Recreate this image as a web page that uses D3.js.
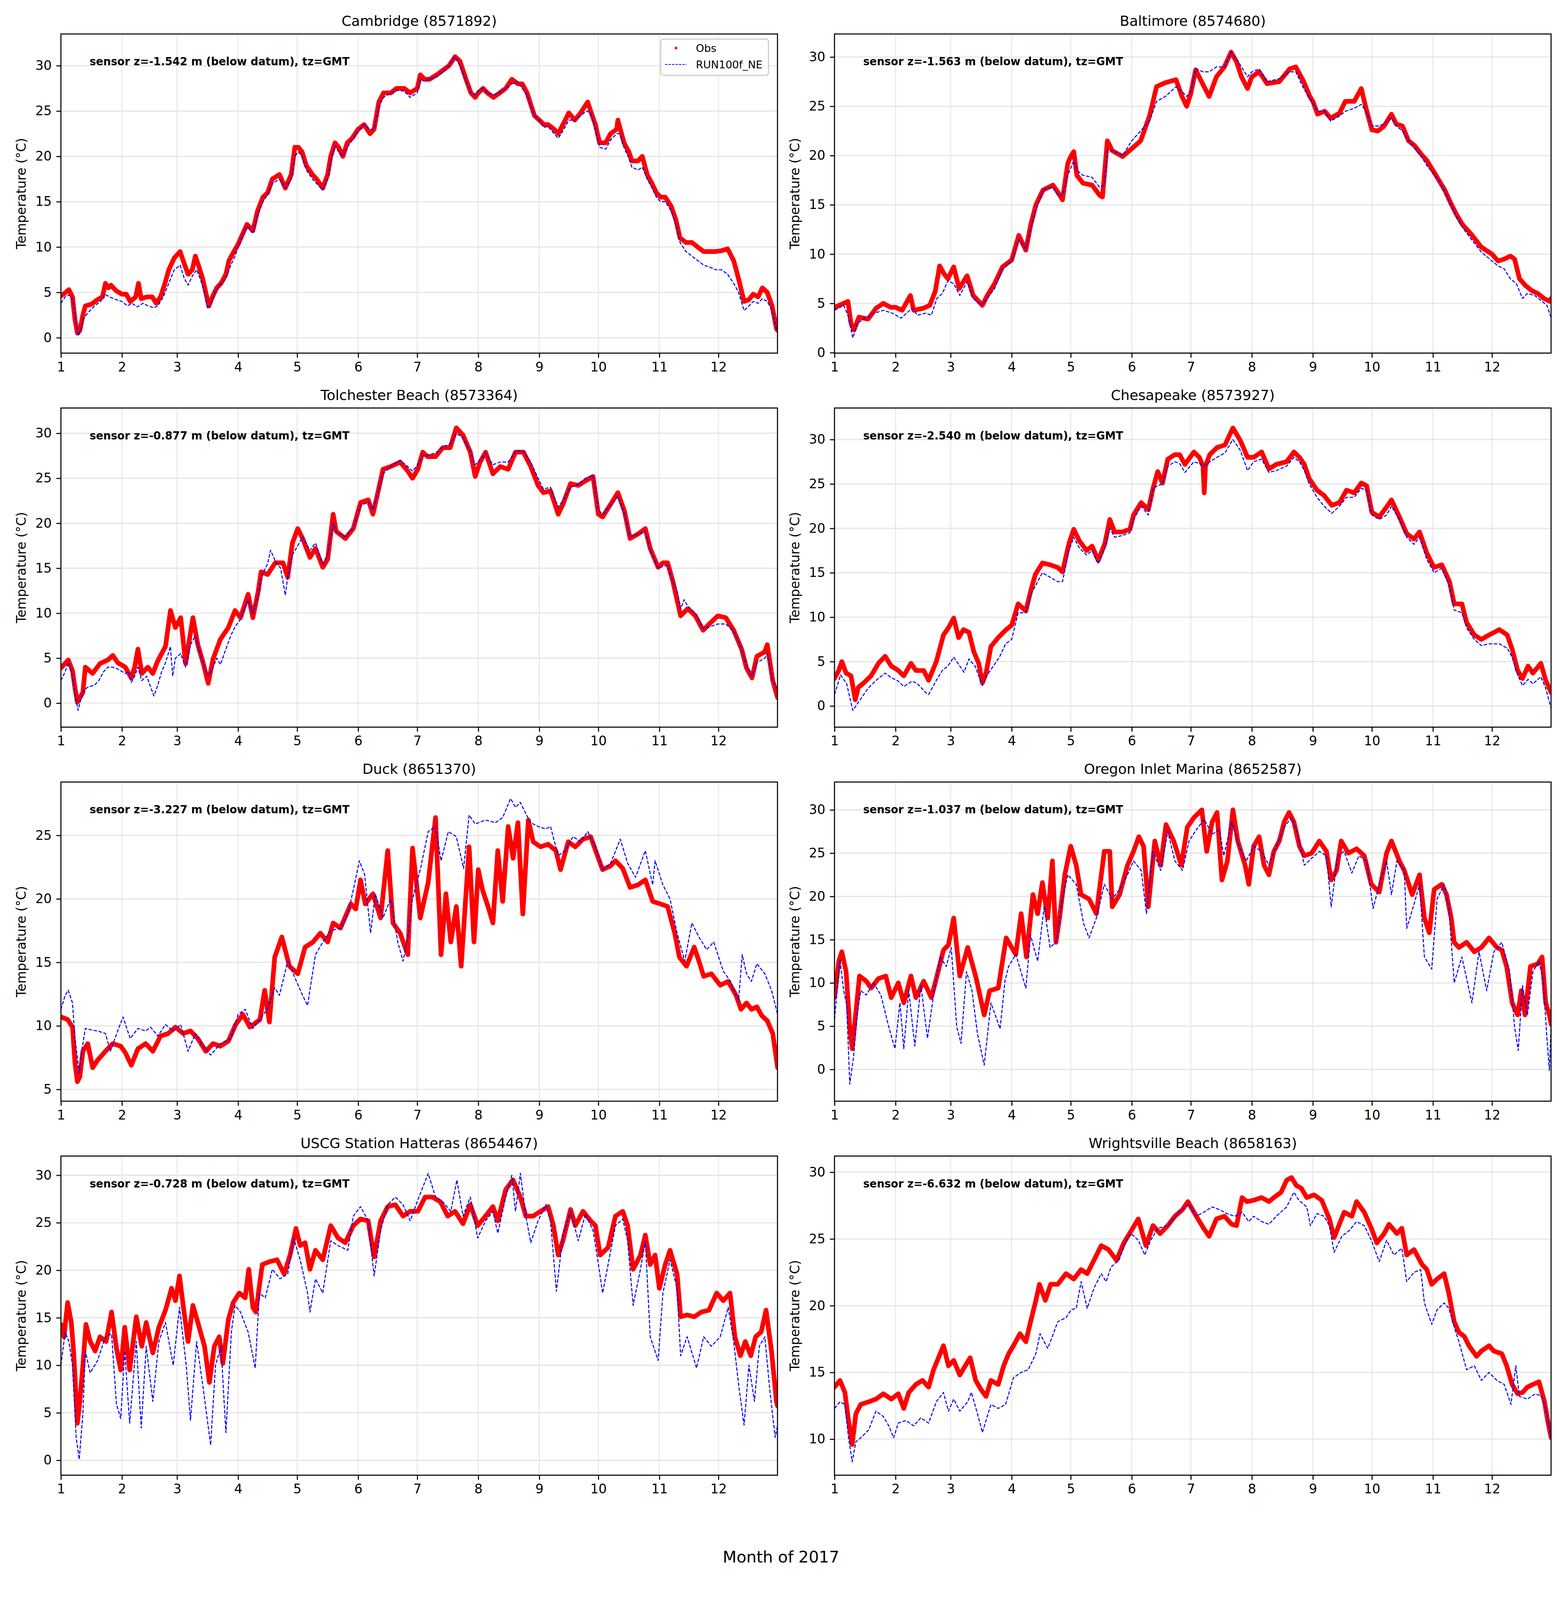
<!DOCTYPE html>
<html><head><meta charset="utf-8">
<script src="https://cdn.jsdelivr.net/npm/d3@7"></script>
<style>html,body{margin:0;padding:0;background:#fff;width:4000px;height:5000px;overflow:hidden}svg{display:block}text{font-family:"DejaVu Sans",sans-serif}</style>
</head><body>
<svg id="c" width="4000" height="5000" viewBox="0 0 4000 5000" xmlns="http://www.w3.org/2000/svg"></svg>
<script>
// ---------------- data (x = fractional month of 2017, y = temperature °C) ----------------
const stationNames = ["Cambridge (8571892)","Baltimore (8574680)","Tolchester Beach (8573364)","Chesapeake (8573927)",
  "Duck (8651370)","Oregon Inlet Marina (8652587)","USCG Station Hatteras (8654467)","Wrightsville Beach (8658163)"];
const sensorDepths = ["-1.542","-1.563","-0.877","-2.540","-3.227","-1.037","-0.728","-6.632"];
const yLimits = [[-1.70,33.50],[-0.05,32.34],[-2.67,32.81],[-2.38,33.55],[4.07,29.20],[-3.67,33.22],[-1.57,32.02],[7.30,31.21]];
const yTickValues = [[0,5,10,15,20,25,30],[0,5,10,15,20,25,30],[0,5,10,15,20,25,30],[0,5,10,15,20,25,30],
  [5,10,15,20,25],[0,5,10,15,20,25,30],[0,5,10,15,20,25,30],[10,15,20,25,30]];
const monthLabels = ["1","2","3","4","5","6","7","8","9","10","11","12"];
const seriesNames = ["Obs","RUN100f_NE"];

const obsCambridge = [[1.0,4.6],[1.08,5.0],[1.13,5.3],[1.19,4.5],[1.23,2.0],[1.27,0.5],[1.31,0.8],[1.36,2.5],[1.4,3.5],[1.5,3.7],[1.6,4.2],[1.68,4.5],[1.73,6.0],[1.78,5.5],[1.82,5.8],[1.9,5.2],[2.0,4.8],[2.08,4.8],[2.15,4.0],[2.25,4.5],[2.3,6.0],[2.35,4.3],[2.45,4.5],[2.55,4.5],[2.62,3.8],[2.7,4.5],[2.78,6.0],[2.85,7.5],[2.95,8.8],[3.05,9.5],[3.1,8.5],[3.18,7.0],[3.25,7.5],[3.3,9.0],[3.35,8.0],[3.42,6.5],[3.47,5.0],[3.52,3.5],[3.58,4.5],[3.65,5.5],[3.72,6.0],[3.8,7.0],[3.85,8.5],[3.93,9.5],[4.0,10.3],[4.08,11.5],[4.15,12.5],[4.25,11.8],[4.33,14.0],[4.42,15.5],[4.5,16.0],[4.58,17.5],[4.7,18.0],[4.8,16.5],[4.9,18.0],[4.96,21.0],[5.02,21.0],[5.08,20.5],[5.15,19.0],[5.25,18.0],[5.32,17.5],[5.42,16.5],[5.5,18.0],[5.55,20.0],[5.62,21.5],[5.68,21.0],[5.75,20.0],[5.82,21.5],[5.9,22.0],[6.0,23.0],[6.1,23.5],[6.2,22.5],[6.27,23.0],[6.35,26.0],[6.43,27.0],[6.55,27.0],[6.65,27.5],[6.78,27.5],[6.88,27.0],[7.0,27.5],[7.05,29.0],[7.12,28.5],[7.2,28.5],[7.32,29.0],[7.42,29.5],[7.52,30.0],[7.62,31.0],[7.7,30.5],[7.8,28.5],[7.88,27.0],[7.95,26.5],[8.0,27.0],[8.08,27.5],[8.15,27.0],[8.25,26.5],[8.35,27.0],[8.45,27.5],[8.55,28.5],[8.65,28.0],[8.72,28.0],[8.8,27.0],[8.92,24.5],[9.0,24.0],[9.08,23.5],[9.15,23.5],[9.25,23.0],[9.32,22.5],[9.4,23.5],[9.5,24.8],[9.6,24.0],[9.7,24.8],[9.82,26.0],[9.87,25.0],[9.95,23.5],[10.02,21.5],[10.12,21.5],[10.2,22.5],[10.3,23.0],[10.32,24.0],[10.42,21.5],[10.5,20.5],[10.55,19.5],[10.65,19.5],[10.72,20.0],[10.8,18.0],[10.88,17.0],[10.95,16.0],[11.02,15.5],[11.1,15.5],[11.2,14.5],[11.28,13.0],[11.35,11.0],[11.45,10.5],[11.55,10.5],[11.65,10.0],[11.75,9.5],[11.85,9.5],[11.95,9.5],[12.05,9.6],[12.15,9.8],[12.25,8.5],[12.33,6.5],[12.42,4.0],[12.5,4.2],[12.57,4.8],[12.65,4.5],[12.72,5.5],[12.8,5.0],[12.88,3.5],[12.95,1.0],[12.97,0.8]];
const modCambridge = [[1.0,3.8],[1.08,4.6],[1.15,4.7],[1.2,4.0],[1.25,1.5],[1.29,0.2],[1.33,1.0],[1.38,2.2],[1.45,2.8],[1.55,3.5],[1.65,4.0],[1.72,4.8],[1.8,4.5],[1.9,4.2],[2.0,4.0],[2.1,3.5],[2.18,3.8],[2.28,3.4],[2.38,3.8],[2.48,3.5],[2.58,3.3],[2.65,3.5],[2.75,4.5],[2.85,6.0],[2.95,7.5],[3.05,8.0],[3.12,6.5],[3.18,5.8],[3.25,6.8],[3.32,7.5],[3.38,6.5],[3.45,5.0],[3.5,3.2],[3.55,3.5],[3.62,5.0],[3.7,5.8],[3.8,6.5],[3.88,8.0],[3.95,9.0],[4.0,10.0],[4.08,11.3],[4.15,12.3],[4.25,11.5],[4.33,13.5],[4.42,15.0],[4.5,15.8],[4.58,17.0],[4.7,17.5],[4.8,16.5],[4.9,17.5],[4.96,20.0],[5.02,20.5],[5.08,20.0],[5.15,18.5],[5.25,17.5],[5.32,17.0],[5.42,16.3],[5.5,17.5],[5.55,19.5],[5.62,21.2],[5.68,20.5],[5.75,20.0],[5.82,21.0],[5.9,21.8],[6.0,22.8],[6.1,23.5],[6.2,23.0],[6.27,23.0],[6.35,25.5],[6.43,26.5],[6.55,27.0],[6.65,27.3],[6.78,27.2],[6.88,26.5],[7.0,27.0],[7.05,28.5],[7.12,28.3],[7.2,28.5],[7.32,28.8],[7.42,29.3],[7.52,30.0],[7.62,31.0],[7.7,30.0],[7.8,28.3],[7.88,27.0],[7.95,26.8],[8.0,27.3],[8.08,27.5],[8.15,27.0],[8.25,26.8],[8.35,27.0],[8.45,27.5],[8.55,28.0],[8.65,28.2],[8.72,27.5],[8.8,26.8],[8.92,24.5],[9.0,24.0],[9.08,23.2],[9.15,23.3],[9.25,22.5],[9.32,22.0],[9.4,22.8],[9.5,24.0],[9.6,24.0],[9.7,24.5],[9.8,25.0],[9.87,24.8],[9.95,23.0],[10.02,21.0],[10.12,20.8],[10.2,21.8],[10.3,22.5],[10.35,22.5],[10.42,21.0],[10.5,19.8],[10.55,18.8],[10.65,18.5],[10.72,18.8],[10.8,17.5],[10.88,16.5],[10.95,15.5],[11.02,15.0],[11.1,15.0],[11.2,14.0],[11.28,12.5],[11.35,10.5],[11.45,9.5],[11.55,9.0],[11.65,8.5],[11.75,8.0],[11.85,7.8],[11.95,7.5],[12.05,7.5],[12.15,7.0],[12.25,6.0],[12.33,5.0],[12.42,3.0],[12.5,3.5],[12.57,4.0],[12.65,3.8],[12.72,4.3],[12.8,4.0],[12.88,3.0],[12.95,1.0],[12.97,0.8]];

const obsBaltimore = [[1.0,4.6],[1.15,5.0],[1.22,5.2],[1.27,3.0],[1.32,2.3],[1.4,3.6],[1.55,3.4],[1.68,4.5],[1.8,5.0],[1.92,4.6],[2.0,4.6],[2.12,4.3],[2.27,5.8],[2.33,4.3],[2.5,4.5],[2.62,4.8],[2.72,6.2],[2.8,8.8],[2.88,8.0],[2.95,7.5],[3.05,8.7],[3.14,6.5],[3.27,7.8],[3.37,5.8],[3.52,4.8],[3.6,5.8],[3.72,7.0],[3.85,8.7],[4.0,9.4],[4.12,11.9],[4.24,10.4],[4.32,12.9],[4.41,15.0],[4.53,16.5],[4.7,17.0],[4.78,16.3],[4.86,15.5],[4.95,19.2],[5.0,19.9],[5.05,20.4],[5.1,18.0],[5.2,17.2],[5.35,17.0],[5.47,16.0],[5.52,15.8],[5.6,21.5],[5.68,20.5],[5.85,19.9],[6.0,20.7],[6.15,21.5],[6.3,24.0],[6.42,27.0],[6.57,27.4],[6.75,27.7],[6.85,26.0],[6.93,25.0],[7.0,26.3],[7.08,28.7],[7.2,27.2],[7.3,26.0],[7.42,28.0],[7.55,29.0],[7.66,30.5],[7.75,29.5],[7.83,28.0],[7.93,26.8],[8.0,28.0],[8.12,28.5],[8.25,27.3],[8.45,27.5],[8.62,28.8],[8.72,29.0],[8.85,27.5],[8.95,26.0],[9.0,25.5],[9.08,24.2],[9.2,24.5],[9.3,23.8],[9.45,24.3],[9.55,25.5],[9.7,25.5],[9.82,26.8],[9.9,24.8],[10.0,22.6],[10.1,22.5],[10.2,23.0],[10.32,24.2],[10.4,23.2],[10.5,23.0],[10.6,21.5],[10.7,21.0],[10.8,20.2],[10.9,19.5],[11.0,18.5],[11.1,17.5],[11.2,16.5],[11.3,15.2],[11.4,14.0],[11.5,13.0],[11.65,12.0],[11.82,10.7],[12.0,10.0],[12.1,9.3],[12.2,9.5],[12.3,9.8],[12.37,9.5],[12.45,7.5],[12.55,6.8],[12.65,6.3],[12.75,6.0],[12.85,5.5],[12.95,5.2],[12.97,5.5]];
const modBaltimore = [[1.0,4.3],[1.15,4.8],[1.22,3.8],[1.3,1.5],[1.38,3.0],[1.5,3.5],[1.65,4.0],[1.8,4.3],[1.95,4.0],[2.1,3.5],[2.2,4.0],[2.3,4.5],[2.4,3.8],[2.55,4.0],[2.65,3.8],[2.75,5.5],[2.85,6.0],[2.95,7.3],[3.05,7.0],[3.15,5.8],[3.27,7.2],[3.37,5.5],[3.5,4.8],[3.6,5.5],[3.72,6.5],[3.85,8.5],[4.0,9.3],[4.12,11.5],[4.24,10.5],[4.32,12.5],[4.41,14.5],[4.53,16.5],[4.7,16.8],[4.78,16.0],[4.86,16.0],[4.95,18.0],[5.05,19.5],[5.1,18.5],[5.2,18.0],[5.35,17.8],[5.47,16.8],[5.55,17.0],[5.6,20.5],[5.68,20.5],[5.85,20.0],[6.0,21.5],[6.15,22.5],[6.3,23.5],[6.42,25.5],[6.57,26.0],[6.75,27.0],[6.85,26.5],[6.93,26.0],[7.0,26.5],[7.08,28.8],[7.2,28.5],[7.3,28.5],[7.42,29.0],[7.55,29.0],[7.66,30.5],[7.75,29.8],[7.83,29.0],[7.93,28.0],[8.0,28.5],[8.12,28.8],[8.25,27.5],[8.45,27.8],[8.62,28.5],[8.72,28.5],[8.85,26.8],[8.95,25.8],[9.0,25.3],[9.08,24.5],[9.2,24.5],[9.3,23.5],[9.45,24.0],[9.55,24.5],[9.7,24.8],[9.82,25.2],[9.9,24.5],[10.0,23.0],[10.1,23.0],[10.2,23.2],[10.32,23.8],[10.4,23.0],[10.5,22.5],[10.6,21.5],[10.7,20.8],[10.8,20.0],[10.9,19.0],[11.0,18.2],[11.1,17.5],[11.2,16.3],[11.3,15.0],[11.4,13.8],[11.5,12.7],[11.65,11.5],[11.82,10.2],[12.0,9.3],[12.1,8.8],[12.2,8.5],[12.3,7.5],[12.4,7.0],[12.5,5.5],[12.58,6.0],[12.7,5.8],[12.8,5.3],[12.9,4.8],[12.97,3.5]];

const obsTolchester = [[1.0,3.9],[1.12,4.8],[1.19,3.6],[1.23,1.7],[1.27,0.1],[1.36,1.2],[1.4,4.0],[1.52,3.3],[1.64,4.4],[1.77,4.8],[1.85,5.3],[1.93,4.5],[2.06,4.0],[2.17,2.8],[2.23,4.0],[2.29,6.0],[2.36,3.3],[2.47,4.0],[2.56,3.3],[2.65,4.7],[2.79,6.3],[2.88,10.3],[2.97,8.4],[3.06,9.5],[3.14,4.4],[3.26,9.5],[3.34,6.5],[3.43,4.4],[3.51,2.2],[3.59,4.9],[3.71,7.1],[3.84,8.4],[3.95,10.3],[4.04,9.5],[4.17,12.1],[4.25,9.5],[4.34,12.4],[4.39,14.6],[4.5,14.3],[4.63,15.6],[4.76,15.6],[4.84,14.0],[4.92,17.8],[5.01,19.4],[5.09,18.3],[5.21,16.2],[5.3,17.2],[5.42,15.1],[5.5,16.0],[5.59,21.0],[5.64,19.1],[5.79,18.3],[5.92,19.4],[6.04,22.3],[6.17,22.6],[6.25,21.0],[6.34,23.6],[6.42,26.0],[6.55,26.3],[6.71,26.8],[6.84,25.8],[6.92,25.0],[7.01,26.0],[7.09,27.9],[7.17,27.4],[7.3,27.4],[7.42,28.4],[7.54,28.4],[7.64,30.6],[7.75,29.8],[7.87,27.9],[7.95,25.2],[8.03,26.8],[8.12,27.9],[8.24,25.5],[8.36,26.3],[8.49,26.0],[8.61,27.9],[8.74,27.9],[8.86,26.3],[8.98,24.2],[9.07,23.4],[9.19,23.6],[9.32,21.0],[9.4,22.1],[9.53,24.4],[9.66,24.2],[9.78,24.7],[9.91,25.2],[10.0,21.0],[10.07,20.7],[10.2,22.1],[10.32,23.4],[10.43,21.3],[10.52,18.3],[10.65,18.8],[10.77,19.4],[10.85,17.2],[10.98,15.1],[11.06,15.6],[11.14,15.6],[11.23,13.5],[11.36,9.7],[11.48,10.5],[11.61,9.7],[11.74,8.1],[11.86,8.9],[11.99,9.7],[12.12,9.5],[12.25,8.1],[12.38,6.0],[12.46,3.9],[12.55,2.8],[12.63,5.2],[12.76,5.7],[12.8,6.5],[12.89,2.5],[12.97,0.6]];
const modTolchester = [[1.0,2.5],[1.07,3.5],[1.12,4.5],[1.19,3.0],[1.23,1.0],[1.28,-0.8],[1.33,0.5],[1.38,1.5],[1.45,1.8],[1.55,2.0],[1.62,2.5],[1.7,3.5],[1.77,4.0],[1.85,4.0],[1.93,3.8],[2.06,3.3],[2.12,3.5],[2.17,2.3],[2.23,3.0],[2.29,4.0],[2.36,2.5],[2.45,3.0],[2.52,1.8],[2.58,0.8],[2.65,2.0],[2.72,3.5],[2.79,4.5],[2.88,6.3],[2.92,3.0],[2.97,5.0],[3.06,5.5],[3.14,4.0],[3.22,6.5],[3.3,7.5],[3.38,5.5],[3.45,4.0],[3.51,3.0],[3.59,4.0],[3.65,5.0],[3.71,4.3],[3.8,6.0],[3.88,7.5],[3.95,8.5],[4.04,9.3],[4.17,11.5],[4.25,10.0],[4.34,12.0],[4.39,14.0],[4.5,15.5],[4.55,17.0],[4.63,15.8],[4.72,15.0],[4.8,12.0],[4.84,14.0],[4.92,16.5],[5.01,17.5],[5.09,18.5],[5.21,17.0],[5.3,17.8],[5.42,15.5],[5.5,16.5],[5.59,20.0],[5.64,19.0],[5.79,18.5],[5.92,19.5],[6.04,22.0],[6.17,22.3],[6.25,21.5],[6.34,23.5],[6.42,25.5],[6.55,26.3],[6.71,27.0],[6.84,26.3],[6.92,25.8],[7.01,26.5],[7.09,27.5],[7.17,27.6],[7.3,27.8],[7.42,28.5],[7.54,28.8],[7.64,30.0],[7.75,29.5],[7.87,28.0],[7.95,26.5],[8.03,27.0],[8.12,27.8],[8.24,26.5],[8.36,26.8],[8.49,26.8],[8.61,28.0],[8.74,28.0],[8.86,26.8],[8.98,25.0],[9.07,23.8],[9.19,24.0],[9.32,21.8],[9.4,22.5],[9.53,24.0],[9.66,24.3],[9.78,25.0],[9.91,25.3],[10.0,21.5],[10.07,21.0],[10.2,22.0],[10.32,23.0],[10.43,21.0],[10.52,18.5],[10.65,18.8],[10.77,19.0],[10.85,17.0],[10.98,15.0],[11.06,15.2],[11.14,15.3],[11.23,13.5],[11.3,12.5],[11.36,10.5],[11.42,11.5],[11.48,10.8],[11.61,10.0],[11.74,8.3],[11.86,8.5],[11.99,8.8],[12.12,8.8],[12.25,8.0],[12.38,6.0],[12.46,4.2],[12.55,3.0],[12.63,4.5],[12.76,5.0],[12.8,5.5],[12.89,2.5],[12.97,1.5]];

const obsChesapeake = [[1.0,3.1],[1.07,4.0],[1.12,5.0],[1.19,3.7],[1.27,3.4],[1.34,0.7],[1.39,2.1],[1.48,2.6],[1.6,3.4],[1.72,4.8],[1.83,5.6],[1.93,4.5],[2.05,4.0],[2.15,3.4],[2.28,4.8],[2.37,4.0],[2.51,4.0],[2.6,2.9],[2.74,5.0],[2.87,8.0],[2.96,8.8],[3.05,9.9],[3.13,7.7],[3.21,8.6],[3.3,8.3],[3.38,6.1],[3.46,4.8],[3.52,2.6],[3.58,3.7],[3.66,6.7],[3.78,7.7],[3.91,8.6],[4.0,9.1],[4.11,11.5],[4.24,10.7],[4.32,12.9],[4.4,14.8],[4.52,16.1],[4.65,15.9],[4.78,15.6],[4.86,15.1],[4.97,18.3],[5.05,19.9],[5.14,18.6],[5.26,17.5],[5.35,18.0],[5.45,16.4],[5.56,18.3],[5.64,21.0],[5.72,19.6],[5.85,19.6],[5.97,19.9],[6.03,21.5],[6.16,22.9],[6.28,22.1],[6.36,24.5],[6.44,26.4],[6.52,25.1],[6.61,27.8],[6.73,28.3],[6.81,28.3],[6.9,27.2],[7.05,28.6],[7.14,28.0],[7.2,27.0],[7.22,24.0],[7.24,27.0],[7.31,28.3],[7.43,29.1],[7.56,29.4],[7.69,31.3],[7.81,29.9],[7.93,28.0],[8.03,28.0],[8.16,28.6],[8.28,26.7],[8.4,27.2],[8.57,27.5],[8.69,28.6],[8.78,28.0],[8.86,27.2],[8.94,25.6],[9.07,24.3],[9.19,23.7],[9.32,22.6],[9.45,22.9],[9.57,24.3],[9.7,24.0],[9.82,25.1],[9.91,24.8],[10.0,21.8],[10.12,21.3],[10.24,22.4],[10.32,23.2],[10.45,21.3],[10.57,19.4],[10.69,18.8],[10.78,19.6],[10.9,17.2],[11.02,15.6],[11.15,15.9],[11.28,14.0],[11.36,11.5],[11.49,11.5],[11.57,9.4],[11.7,8.0],[11.82,7.5],[11.95,8.0],[12.12,8.6],[12.25,8.0],[12.33,6.4],[12.42,4.0],[12.5,3.1],[12.59,4.5],[12.67,3.7],[12.8,4.8],[12.88,2.9],[12.97,1.5]];
const modChesapeake = [[1.0,1.3],[1.1,3.5],[1.2,2.5],[1.3,-0.5],[1.4,0.5],[1.55,2.0],[1.7,3.0],[1.83,3.7],[1.93,3.2],[2.05,2.8],[2.15,2.2],[2.3,2.8],[2.4,2.5],[2.55,1.5],[2.6,1.3],[2.75,3.0],[2.85,4.0],[2.95,4.5],[3.05,5.5],[3.15,4.5],[3.22,3.8],[3.3,5.3],[3.4,4.5],[3.52,2.3],[3.6,3.5],[3.7,4.5],[3.8,5.5],[3.9,7.0],[4.0,7.5],[4.11,10.5],[4.24,10.5],[4.32,12.5],[4.4,13.5],[4.52,15.0],[4.65,14.5],[4.78,14.0],[4.86,14.0],[4.97,17.5],[5.05,19.0],[5.14,17.8],[5.26,17.0],[5.35,17.5],[5.45,16.0],[5.56,17.8],[5.64,20.0],[5.72,19.0],[5.85,19.2],[5.97,19.5],[6.03,21.0],[6.16,22.5],[6.28,21.5],[6.36,24.5],[6.44,24.8],[6.52,25.0],[6.61,27.0],[6.73,27.5],[6.81,27.3],[6.9,26.3],[7.05,27.5],[7.14,27.3],[7.22,27.0],[7.31,27.5],[7.43,28.0],[7.56,28.5],[7.69,30.0],[7.81,28.8],[7.93,26.5],[8.03,27.5],[8.16,27.8],[8.28,26.3],[8.4,26.5],[8.57,27.0],[8.69,28.0],[8.78,27.5],[8.86,26.5],[8.94,25.0],[9.07,23.5],[9.19,22.5],[9.32,21.7],[9.45,22.5],[9.57,23.5],[9.7,23.5],[9.82,24.5],[9.91,24.3],[10.0,21.5],[10.12,21.0],[10.24,21.5],[10.32,22.5],[10.45,21.0],[10.57,19.0],[10.69,18.2],[10.78,19.0],[10.9,16.5],[11.02,15.0],[11.15,15.5],[11.28,13.5],[11.36,10.8],[11.49,10.5],[11.57,8.8],[11.7,7.5],[11.82,6.8],[11.95,7.0],[12.12,7.0],[12.25,6.5],[12.33,5.5],[12.42,3.5],[12.5,2.3],[12.59,3.0],[12.67,2.5],[12.8,3.3],[12.88,2.0],[12.97,-0.3]];

const obsDuck = [[1.0,10.7],[1.11,10.5],[1.19,9.9],[1.23,7.1],[1.27,5.6],[1.31,6.0],[1.36,8.0],[1.44,8.6],[1.52,6.7],[1.6,7.3],[1.73,8.0],[1.85,8.6],[1.98,8.4],[2.06,7.9],[2.17,6.9],[2.29,8.2],[2.43,8.6],[2.56,8.0],[2.7,9.2],[2.84,9.4],[2.97,9.9],[3.1,9.4],[3.22,9.6],[3.34,9.0],[3.47,8.0],[3.59,8.6],[3.71,8.4],[3.84,8.8],[3.96,10.1],[4.08,10.9],[4.2,9.9],[4.37,10.5],[4.45,12.8],[4.53,10.3],[4.62,15.4],[4.74,17.0],[4.87,14.7],[5.01,14.1],[5.13,16.2],[5.26,16.6],[5.38,17.3],[5.5,16.6],[5.59,18.1],[5.71,17.7],[5.88,19.6],[5.96,19.2],[6.04,21.5],[6.12,19.6],[6.25,20.4],[6.38,18.5],[6.5,23.8],[6.59,18.1],[6.71,17.3],[6.84,15.6],[6.92,24.0],[7.05,18.5],[7.18,21.3],[7.3,26.4],[7.39,15.6],[7.47,20.4],[7.55,16.6],[7.64,19.4],[7.72,14.7],[7.85,24.1],[7.93,16.6],[8.0,22.3],[8.07,20.7],[8.16,19.4],[8.24,18.1],[8.32,23.8],[8.4,19.8],[8.49,25.7],[8.57,23.2],[8.65,26.0],[8.73,18.8],[8.82,26.2],[8.9,24.5],[9.02,24.1],[9.15,24.3],[9.28,23.8],[9.36,22.3],[9.49,24.5],[9.61,24.1],[9.74,24.7],[9.87,24.9],[10.0,23.2],[10.07,22.3],[10.2,22.6],[10.28,23.0],[10.4,22.4],[10.52,20.9],[10.65,21.1],[10.77,21.5],[10.89,19.8],[11.02,19.6],[11.14,19.4],[11.26,17.3],[11.34,15.4],[11.46,14.7],[11.59,16.2],[11.67,15.1],[11.75,13.9],[11.88,14.1],[12.03,13.2],[12.16,13.5],[12.29,12.4],[12.37,11.3],[12.46,11.8],[12.54,11.3],[12.63,11.5],[12.71,10.8],[12.8,10.4],[12.89,9.4],[12.97,6.7]];
const modDuck = [[1.0,11.3],[1.07,12.4],[1.12,12.8],[1.19,11.8],[1.23,9.0],[1.3,6.3],[1.34,8.0],[1.4,9.8],[1.48,9.7],[1.6,9.6],[1.73,9.4],[1.81,8.0],[1.93,9.6],[2.02,10.7],[2.15,9.0],[2.29,9.8],[2.43,9.6],[2.52,9.9],[2.65,9.2],[2.79,10.1],[2.93,9.6],[3.06,10.1],[3.18,8.0],[3.3,9.4],[3.43,8.4],[3.55,7.7],[3.71,8.6],[3.88,9.0],[4.0,10.9],[4.12,11.3],[4.25,9.8],[4.37,10.5],[4.49,11.3],[4.62,13.0],[4.7,12.4],[4.84,15.1],[4.97,13.7],[5.09,12.4],[5.17,11.6],[5.3,15.6],[5.42,16.6],[5.55,17.5],[5.71,17.7],[5.83,18.8],[5.92,20.7],[6.02,23.0],[6.11,21.9],[6.21,17.3],[6.29,20.4],[6.42,18.5],[6.55,20.0],[6.67,16.6],[6.76,15.1],[6.84,17.0],[6.92,20.0],[7.05,22.3],[7.18,25.3],[7.3,25.7],[7.39,23.0],[7.51,25.3],[7.64,24.9],[7.76,22.4],[7.85,26.6],[7.95,25.9],[8.12,26.2],[8.28,26.0],[8.4,26.4],[8.53,27.9],[8.61,27.2],[8.69,27.6],[8.77,26.8],[8.86,26.0],[8.98,25.7],[9.11,25.5],[9.19,25.7],[9.32,23.4],[9.44,23.8],[9.57,24.9],[9.7,24.5],[9.82,25.3],[9.95,24.1],[10.07,22.3],[10.2,22.8],[10.36,24.7],[10.48,22.8],[10.61,21.7],[10.77,23.8],[10.89,21.1],[10.93,23.0],[11.06,21.1],[11.18,20.0],[11.3,17.3],[11.43,15.1],[11.55,18.1],[11.67,17.0],[11.8,16.0],[11.92,16.6],[12.08,14.3],[12.2,13.5],[12.33,12.0],[12.39,15.6],[12.46,14.1],[12.54,13.5],[12.63,14.9],[12.76,14.1],[12.87,12.8],[12.97,10.9]];

const obsOregon = [[1.0,8.3],[1.07,12.5],[1.12,13.6],[1.19,11.3],[1.25,4.9],[1.29,2.4],[1.35,6.6],[1.41,10.8],[1.52,10.2],[1.6,9.4],[1.72,10.5],[1.84,10.8],[1.93,8.3],[2.05,10.0],[2.15,7.7],[2.28,10.8],[2.37,8.3],[2.51,10.2],[2.65,8.3],[2.74,10.5],[2.87,13.8],[2.96,14.4],[3.05,17.5],[3.15,10.8],[3.28,14.1],[3.42,10.5],[3.55,6.3],[3.64,9.1],[3.78,9.4],[3.91,15.2],[4.0,14.1],[4.07,13.3],[4.16,18.0],[4.25,13.0],[4.36,20.2],[4.44,18.0],[4.52,21.6],[4.61,17.5],[4.69,24.1],[4.75,14.7],[4.81,17.5],[4.9,22.5],[5.0,25.8],[5.09,23.6],[5.17,20.2],[5.3,19.7],[5.42,18.0],[5.55,25.2],[5.64,25.2],[5.68,18.8],[5.8,20.2],[5.93,23.6],[6.03,25.2],[6.12,26.9],[6.2,25.8],[6.28,18.8],[6.39,26.4],[6.49,23.6],[6.58,28.3],[6.71,26.4],[6.84,23.6],[6.94,28.0],[7.05,29.1],[7.18,30.0],[7.26,25.2],[7.35,28.6],[7.43,29.7],[7.51,21.9],[7.6,24.1],[7.69,30.0],[7.77,26.4],[7.89,23.6],[7.95,21.4],[8.03,25.8],[8.12,26.9],[8.2,23.6],[8.28,22.5],[8.36,25.2],[8.45,26.4],[8.53,28.6],[8.61,29.7],[8.69,28.6],[8.78,25.8],[8.86,24.7],[8.98,25.0],[9.11,26.4],[9.23,25.2],[9.31,21.9],[9.4,23.0],[9.48,26.4],[9.6,25.0],[9.74,25.5],[9.87,24.7],[9.99,21.4],[10.12,20.5],[10.24,25.0],[10.32,26.4],[10.45,24.1],[10.53,23.0],[10.66,20.2],[10.78,22.5],[10.86,17.5],[10.94,15.8],[11.02,20.8],[11.15,21.4],[11.23,20.2],[11.31,17.5],[11.36,14.7],[11.44,14.1],[11.57,14.7],[11.7,13.6],[11.82,14.1],[11.95,15.2],[12.08,14.1],[12.16,13.8],[12.24,11.9],[12.33,7.7],[12.42,6.3],[12.48,9.1],[12.54,6.3],[12.63,11.9],[12.75,12.2],[12.82,13.0],[12.88,7.7],[12.94,6.3],[12.97,5.2]];
const modOregon = [[1.0,5.8],[1.09,12.7],[1.15,9.1],[1.2,7.5],[1.25,-1.7],[1.31,1.3],[1.37,6.3],[1.43,9.1],[1.52,8.6],[1.64,10.0],[1.76,8.6],[1.89,4.9],[1.99,2.4],[2.08,7.7],[2.15,2.4],[2.24,9.1],[2.35,2.7],[2.46,9.7],[2.58,3.6],[2.69,8.6],[2.81,13.0],[2.92,11.9],[3.01,14.1],[3.1,4.9],[3.17,3.0],[3.26,11.3],[3.35,9.1],[3.44,4.1],[3.55,0.5],[3.66,7.7],[3.81,4.7],[3.89,10.2],[3.95,11.9],[4.07,13.3],[4.24,9.4],[4.32,15.5],[4.44,12.5],[4.55,18.8],[4.65,14.1],[4.75,14.7],[4.86,19.7],[4.95,22.5],[5.09,21.4],[5.21,16.9],[5.3,15.2],[5.42,17.5],[5.55,21.4],[5.68,19.7],[5.8,20.8],[5.93,22.5],[6.03,24.1],[6.16,23.0],[6.25,18.0],[6.36,25.2],[6.49,23.0],[6.61,27.5],[6.73,24.1],[6.86,23.0],[6.97,26.4],[7.09,27.7],[7.22,28.9],[7.35,27.2],[7.47,27.7],[7.54,24.7],[7.67,28.6],[7.79,25.8],[7.91,24.1],[8.03,25.8],[8.16,25.2],[8.28,23.6],[8.4,25.8],[8.53,28.0],[8.65,29.1],[8.74,27.5],[8.86,23.6],[8.98,24.4],[9.11,25.2],[9.23,24.7],[9.31,18.8],[9.42,24.7],[9.53,25.2],[9.66,22.7],[9.78,24.7],[9.91,24.1],[10.02,18.6],[10.12,21.4],[10.24,24.1],[10.32,20.2],[10.41,24.1],[10.53,23.0],[10.57,16.3],[10.69,19.1],[10.78,21.4],[10.86,13.0],[10.98,11.6],[11.07,19.7],[11.19,21.4],[11.27,18.6],[11.36,10.0],[11.49,13.0],[11.66,7.7],[11.78,13.6],[11.91,9.1],[12.03,13.6],[12.16,14.7],[12.29,11.3],[12.37,4.9],[12.43,2.2],[12.5,9.7],[12.58,6.3],[12.67,11.3],[12.77,12.5],[12.84,10.2],[12.9,3.6],[12.94,-0.1],[12.97,5.5]];

const obsHatteras = [[1.0,14.3],[1.05,13.0],[1.11,16.6],[1.17,14.5],[1.21,11.3],[1.27,3.9],[1.31,6.2],[1.36,10.0],[1.41,14.3],[1.48,12.5],[1.56,11.5],[1.64,13.0],[1.74,12.5],[1.83,15.6],[1.91,11.8],[1.98,9.5],[2.05,14.0],[2.14,9.5],[2.26,15.1],[2.36,12.0],[2.44,14.5],[2.56,11.3],[2.67,14.0],[2.79,15.8],[2.9,18.1],[2.97,16.8],[3.04,19.4],[3.1,16.3],[3.18,12.5],[3.26,16.3],[3.34,14.5],[3.45,12.0],[3.53,8.2],[3.61,12.0],[3.69,13.0],[3.75,10.2],[3.84,14.8],[3.92,16.6],[4.02,17.6],[4.12,17.1],[4.18,20.1],[4.25,16.1],[4.3,15.6],[4.41,20.6],[4.53,20.9],[4.66,21.1],[4.78,19.6],[4.88,21.6],[4.98,24.4],[5.05,22.6],[5.13,22.9],[5.21,20.1],[5.3,22.1],[5.42,21.1],[5.55,24.7],[5.67,23.4],[5.79,22.9],[5.92,24.7],[6.04,25.4],[6.17,25.2],[6.27,21.4],[6.38,25.2],[6.5,26.7],[6.63,26.9],[6.76,25.7],[6.88,26.2],[7.01,26.2],[7.13,27.7],[7.25,27.7],[7.38,27.2],[7.5,25.7],[7.62,26.2],[7.75,24.9],[7.87,26.9],[7.99,24.7],[8.12,25.7],[8.24,26.7],[8.32,25.2],[8.45,28.5],[8.57,29.5],[8.69,27.7],[8.78,25.7],[8.9,25.7],[9.02,26.2],[9.15,26.7],[9.24,24.7],[9.32,21.6],[9.4,23.1],[9.53,26.4],[9.61,24.7],[9.74,26.2],[9.87,25.2],[9.95,24.7],[10.03,21.6],[10.16,22.4],[10.28,25.7],[10.4,26.2],[10.48,24.7],[10.57,20.1],[10.69,21.6],[10.77,23.7],[10.85,20.6],[10.93,21.6],[11.0,18.1],[11.1,20.6],[11.18,22.1],[11.3,19.6],[11.36,15.1],[11.47,15.3],[11.59,15.1],[11.71,15.6],[11.84,15.8],[11.97,17.6],[12.08,16.8],[12.19,17.6],[12.27,13.0],[12.36,11.0],[12.44,12.5],[12.53,11.0],[12.61,13.0],[12.7,13.5],[12.78,15.8],[12.87,11.5],[12.95,6.2],[12.97,5.7]];
const modHatteras = [[1.0,10.0],[1.07,13.5],[1.13,12.5],[1.19,10.0],[1.25,2.4],[1.3,0.1],[1.36,4.9],[1.4,11.5],[1.48,9.2],[1.6,10.5],[1.73,13.0],[1.83,13.3],[1.91,5.9],[1.98,4.4],[2.05,11.5],[2.14,3.9],[2.26,12.5],[2.35,3.4],[2.44,12.0],[2.56,6.2],[2.67,12.5],[2.79,14.5],[2.93,10.0],[3.04,16.1],[3.15,10.0],[3.22,4.2],[3.32,12.5],[3.43,7.5],[3.55,1.6],[3.63,10.0],[3.72,12.0],[3.8,2.9],[3.89,13.5],[3.95,16.3],[4.04,15.6],[4.17,13.5],[4.29,9.7],[4.36,17.6],[4.46,17.1],[4.58,20.1],[4.71,19.1],[4.84,19.6],[4.94,23.4],[5.05,21.1],[5.17,17.6],[5.21,15.6],[5.3,19.1],[5.42,17.6],[5.55,23.1],[5.67,22.6],[5.83,22.1],[5.92,25.7],[6.04,26.7],[6.17,25.2],[6.27,19.4],[6.38,24.2],[6.5,26.9],[6.63,27.7],[6.76,26.9],[6.88,25.2],[7.01,27.4],[7.18,30.2],[7.3,27.7],[7.42,27.2],[7.55,26.2],[7.65,29.5],[7.75,25.7],[7.87,27.7],[7.99,23.4],[8.12,25.2],[8.24,26.2],[8.32,23.9],[8.45,27.7],[8.55,30.0],[8.61,26.2],[8.69,30.2],[8.78,25.7],[8.86,22.9],[8.98,25.2],[9.11,26.9],[9.19,25.2],[9.29,17.8],[9.4,23.7],[9.53,26.2],[9.66,23.1],[9.78,25.9],[9.91,24.2],[9.99,21.1],[10.07,17.6],[10.16,20.6],[10.28,24.7],[10.4,25.4],[10.48,23.1],[10.57,16.3],[10.69,20.1],[10.77,23.1],[10.85,13.0],[10.98,10.5],[11.06,17.6],[11.18,21.1],[11.3,18.1],[11.36,11.0],[11.47,13.0],[11.63,9.7],[11.75,13.0],[11.88,12.0],[12.03,13.0],[12.16,16.1],[12.25,12.5],[12.33,8.0],[12.42,3.7],[12.5,10.0],[12.59,6.2],[12.67,12.0],[12.76,13.0],[12.84,7.5],[12.93,2.4],[12.97,3.7]];

const obsWrightsville = [[1.0,13.9],[1.09,14.4],[1.17,13.5],[1.23,11.4],[1.29,9.6],[1.35,11.9],[1.43,12.6],[1.56,12.8],[1.68,13.0],[1.8,13.4],[1.93,13.0],[2.05,13.4],[2.15,12.3],[2.24,13.5],[2.37,14.1],[2.49,14.4],[2.6,13.9],[2.69,15.2],[2.78,16.1],[2.87,17.0],[2.96,15.5],[3.05,15.9],[3.15,14.8],[3.24,15.5],[3.32,16.1],[3.41,14.4],[3.5,13.7],[3.58,13.2],[3.66,14.4],[3.78,14.1],[3.87,15.5],[3.95,16.4],[4.03,17.0],[4.14,17.9],[4.24,17.3],[4.32,18.8],[4.41,20.4],[4.47,21.6],[4.57,20.4],[4.66,21.6],[4.78,21.6],[4.92,22.4],[5.05,22.0],[5.17,22.7],[5.27,22.4],[5.38,23.4],[5.5,24.5],[5.62,24.2],[5.75,23.4],[5.87,24.7],[5.99,25.6],[6.11,26.5],[6.24,24.5],[6.36,26.0],[6.48,25.4],[6.61,26.0],[6.73,26.7],[6.86,27.2],[6.95,27.8],[7.09,26.7],[7.21,25.8],[7.3,25.2],[7.42,26.5],[7.55,26.7],[7.67,26.1],[7.75,26.0],[7.84,28.1],[7.92,27.8],[8.03,27.9],[8.16,28.1],[8.28,27.8],[8.36,28.1],[8.48,28.5],[8.57,29.4],[8.65,29.6],[8.73,29.0],[8.81,28.8],[8.9,28.1],[9.02,28.3],[9.15,27.9],[9.28,26.5],[9.36,25.1],[9.44,26.0],[9.53,27.0],[9.66,26.7],[9.74,27.8],[9.87,27.0],[9.99,25.8],[10.08,24.7],[10.2,25.4],[10.28,26.1],[10.41,25.4],[10.49,25.8],[10.57,23.8],[10.69,24.2],[10.82,23.1],[10.9,22.7],[10.98,21.6],[11.07,22.0],[11.19,22.4],[11.27,20.9],[11.36,18.8],[11.44,18.0],[11.53,17.7],[11.61,17.0],[11.74,16.2],[11.82,16.6],[11.95,17.0],[12.03,16.6],[12.16,16.4],[12.24,15.5],[12.33,14.1],[12.42,13.4],[12.5,13.5],[12.58,13.9],[12.67,14.1],[12.77,14.3],[12.86,12.8],[12.92,11.2],[12.97,10.1]];
const modWrightsville = [[1.0,12.3],[1.09,12.8],[1.17,12.6],[1.23,10.1],[1.29,8.3],[1.35,9.8],[1.43,10.1],[1.56,10.7],[1.68,12.1],[1.8,11.7],[1.89,11.0],[1.97,10.1],[2.05,11.2],[2.19,11.4],[2.33,11.0],[2.46,11.6],[2.6,11.2],[2.74,12.8],[2.87,13.5],[2.96,12.1],[3.05,13.0],[3.15,12.1],[3.28,12.8],[3.34,13.5],[3.44,11.9],[3.52,10.5],[3.58,11.4],[3.66,12.6],[3.78,12.3],[3.9,12.6],[4.03,14.6],[4.16,15.0],[4.28,15.2],[4.41,16.4],[4.48,17.9],[4.61,16.8],[4.69,17.7],[4.78,18.8],[4.92,19.1],[5.01,19.7],[5.09,19.8],[5.17,21.8],[5.27,19.8],[5.38,21.3],[5.5,22.4],[5.58,21.8],[5.66,22.9],[5.79,23.4],[5.91,24.9],[5.99,25.4],[6.11,24.9],[6.22,23.8],[6.32,24.9],[6.44,25.8],[6.61,26.0],[6.8,27.0],[6.97,27.6],[7.09,26.7],[7.21,27.0],[7.35,27.4],[7.47,27.2],[7.59,26.9],[7.72,26.7],[7.84,27.0],[7.95,26.3],[8.03,26.7],[8.16,26.3],[8.28,26.1],[8.4,26.7],[8.57,27.4],[8.69,28.5],[8.77,27.9],[8.9,27.4],[8.96,26.0],[9.07,26.9],[9.19,26.7],[9.28,26.0],[9.36,24.0],[9.49,25.2],[9.61,25.6],[9.74,26.3],[9.87,26.0],[9.99,24.9],[10.12,23.3],[10.24,24.9],[10.36,23.8],[10.49,24.3],[10.57,21.8],[10.69,22.5],[10.8,22.7],[10.86,20.2],[10.98,18.6],[11.07,19.7],[11.19,20.2],[11.27,19.8],[11.36,18.4],[11.44,17.3],[11.57,15.2],[11.7,15.5],[11.82,14.4],[11.95,15.0],[12.08,14.4],[12.2,14.1],[12.31,12.6],[12.39,15.5],[12.45,13.2],[12.58,13.0],[12.71,13.4],[12.82,13.2],[12.9,11.9],[12.97,9.9]];

const obsSeries = [obsCambridge,obsBaltimore,obsTolchester,obsChesapeake,obsDuck,obsOregon,obsHatteras,obsWrightsville];
const modSeries = [modCambridge,modBaltimore,modTolchester,modChesapeake,modDuck,modOregon,modHatteras,modWrightsville];

// ---------------- layout ----------------
const colX = [156, 2137], plotW = 1835;
const rowY = [87, 1044.5, 2002, 2959.5], plotH = 817;
const tickLen = 11.7, tickPad = 11.7;
const svg = d3.select("#c");
svg.append("rect").attr("width",4000).attr("height",5000).attr("fill","#fff");

const toDate = f => {
  const m = Math.floor(f);
  const s = new Date(2017, m - 1, 1), e = new Date(2017, m, 1);
  return new Date(+s + (f - m) * (e - s));
};
const monthStarts = d3.range(12).map(i => new Date(2017, i, 1));

stationNames.forEach((name, i) => {
  const x0 = colX[i % 2], y0 = rowY[Math.floor(i / 2)];
  const x = d3.scaleTime().domain([new Date(2017,0,1), new Date(2017,11,31)]).range([x0, x0 + plotW]);
  const y = d3.scaleLinear().domain(yLimits[i]).range([y0 + plotH, y0]);
  const g = svg.append("g");

  g.append("g").selectAll("line").data(monthStarts).join("line")
    .attr("x1", d => x(d)).attr("x2", d => x(d)).attr("y1", y0).attr("y2", y0 + plotH)
    .attr("stroke", "#e8e8e8").attr("stroke-width", 2.7);
  g.append("g").selectAll("line").data(yTickValues[i]).join("line")
    .attr("x1", x0).attr("x2", x0 + plotW).attr("y1", d => y(d)).attr("y2", d => y(d))
    .attr("stroke", "#e6e6e6").attr("stroke-width", 3.2);

  const cid = "clip" + i;
  svg.append("clipPath").attr("id", cid).append("rect")
    .attr("x", x0).attr("y", y0).attr("width", plotW).attr("height", plotH);

  const line = d3.line().x(d => x(toDate(d[0]))).y(d => y(d[1]));
  const data = g.append("g").attr("clip-path", `url(#${cid})`);
  data.append("path").datum(obsSeries[i]).attr("d", line)
    .attr("fill", "none").attr("stroke", "#ff0000").attr("stroke-width", 12)
    .attr("stroke-linejoin", "round").attr("stroke-linecap", "round");
  data.append("path").datum(modSeries[i]).attr("d", line)
    .attr("fill", "none").attr("stroke", "#0000ff").attr("stroke-width", 2.6)
    .attr("stroke-dasharray", "9,4").attr("stroke-linejoin", "round");

  g.append("rect").attr("x", x0).attr("y", y0).attr("width", plotW).attr("height", plotH)
    .attr("fill", "none").attr("stroke", "#000").attr("stroke-width", 2.7);

  const xAxis = d3.axisBottom(x).tickValues(monthStarts).tickFormat((d, k) => monthLabels[k])
    .tickSize(tickLen).tickPadding(tickPad);
  const gx = g.append("g").attr("transform", `translate(0,${y0 + plotH})`).call(xAxis);
  const yAxis = d3.axisLeft(y).tickValues(yTickValues[i]).tickFormat(d3.format("d"))
    .tickSize(tickLen).tickPadding(tickPad);
  const gy = g.append("g").attr("transform", `translate(${x0},0)`).call(yAxis);
  [gx, gy].forEach(a => {
    a.select(".domain").remove();
    a.selectAll(".tick line").attr("stroke", "#000").attr("stroke-width", 2.7);
    a.selectAll(".tick text").attr("fill", "#000").style("font-size", "33px").style("font-family", "DejaVu Sans");
  });

  g.append("text").attr("x", x0 + plotW / 2).attr("y", y0 - 21).attr("text-anchor", "middle")
    .style("font-size", "36px").text(name);
  g.append("text").attr("x", x0 + 0.04 * plotW).attr("y", y0 + 80)
    .style("font-size", "27.5px").style("font-weight", "bold")
    .text(`sensor z=${sensorDepths[i]} m (below datum), tz=GMT`);
  g.append("text").attr("transform", `translate(${x0 - 90},${y0 + plotH / 2}) rotate(-90)`)
    .attr("text-anchor", "middle").style("font-size", "33px").text("Temperature (°C)");

  if (i === 0) {
    const lx = x0 + plotW - 23 - 276, ly = y0 + 13;
    const lg = g.append("g");
    lg.append("rect").attr("x", lx).attr("y", ly).attr("width", 276).attr("height", 93).attr("rx", 7)
      .attr("fill", "#fff").attr("fill-opacity", 0.8).attr("stroke", "#cccccc").attr("stroke-width", 3);
    lg.append("circle").attr("cx", lx + 39).attr("cy", ly + 23).attr("r", 3.6).attr("fill", "#ff0000");
    lg.append("text").attr("x", lx + 90).attr("y", ly + 33).style("font-size", "27px").text(seriesNames[0]);
    lg.append("line").attr("x1", lx + 11).attr("x2", lx + 66).attr("y1", ly + 65).attr("y2", ly + 65)
      .attr("stroke", "#0000ff").attr("stroke-width", 1.8).attr("stroke-dasharray", "6.2,2.7");
    lg.append("text").attr("x", lx + 90).attr("y", ly + 75).style("font-size", "27px").text(seriesNames[1]);
  }
});

// common x label: the photographed area ends near y≈4080, so it sits just below the bottom row
svg.append("text").attr("x", 2000).attr("y", 4000).attr("text-anchor", "middle")
  .style("font-size", "41px").text("Month of 2017");
</script>
</body></html>
